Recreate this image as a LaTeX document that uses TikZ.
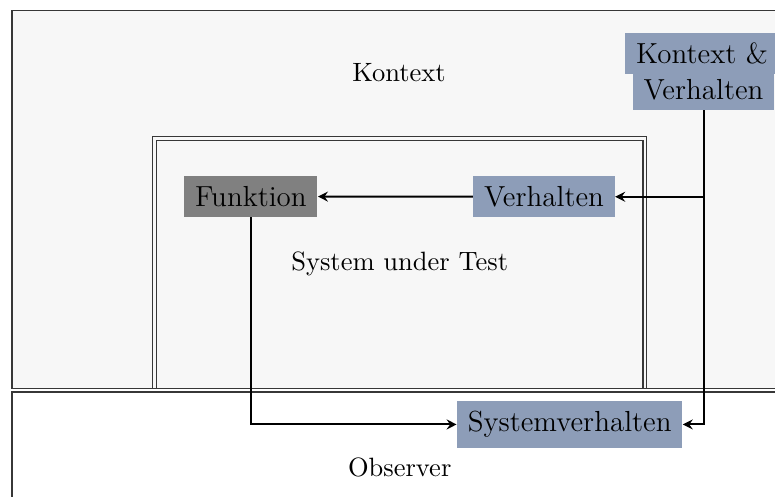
\documentclass[tikz,border=0pt]{standalone}
\usetikzlibrary{arrows.meta}
\definecolor{bluegray}{RGB}{141,157,184}
\definecolor{funcgray}{RGB}{128,128,128}
\definecolor{ctxbg}{RGB}{247,247,247}
\definecolor{framecol}{RGB}{55,55,55}
\begin{document}
\begin{tikzpicture}[x=0.4pt,y=-0.4pt,
  areatext/.style={font=\fontsize{10.6}{12.7}\selectfont, anchor=base, inner sep=0pt},
  blockbox/.style={font=\fontsize{11.6}{13.9}\selectfont, anchor=base,
    inner xsep=4.3pt, inner ysep=4pt, fill=bluegray},
  frameline/.style={draw=framecol, line width=0.45pt},
  conn/.style={line width=0.8pt, black,
    -{Stealth[length=4pt,width=4pt,inset=1.4pt]}}
]
\useasboundingbox (0,0) rectangle (775,497);
\begin{scope}
  \clip (0,0) rectangle (775,497);
  % context and observer areas
  \draw[frameline, fill=ctxbg] (12,10.5) rectangle (820,388.5);
  \draw[frameline, fill=white] (12,392) rectangle (820,540);
  % system under test, double frame
  \draw[frameline] (152.5,136.5) rectangle (646.5,388.5);
  \draw[frameline] (156.5,140.5) rectangle (643,388.5);

  % area labels
  \node[areatext] (lctx) at (399,81.5) {Kontext};
  \node[areatext] (lsut) at (399.7,271) {System under Test};
  \node[areatext] (lobs) at (399.7,476.7) {Observer};

  % blocks
  \node[blockbox] (kv2) at (703.5,99.3) {Verhalten};
  \node[blockbox] (kv1) at (702,63.3) {Kontext \&};
  \node[blockbox] (verh) at (544,206.5) {Verhalten};
  \node[blockbox, fill=funcgray] (funk) at (250.9,206.5) {Funktion};
  \node[blockbox] (sysv) at (569.7,431.7) {Systemverhalten};

  % connectors
  \draw[conn] (kv2.south) |- (verh.east);
  \draw[conn] (kv2.south) |- (sysv.east);
  \draw[conn] (verh.west) -- (funk.east);
  \draw[conn] (funk.south) |- (sysv.west);
\end{scope}
\end{tikzpicture}
\end{document}
